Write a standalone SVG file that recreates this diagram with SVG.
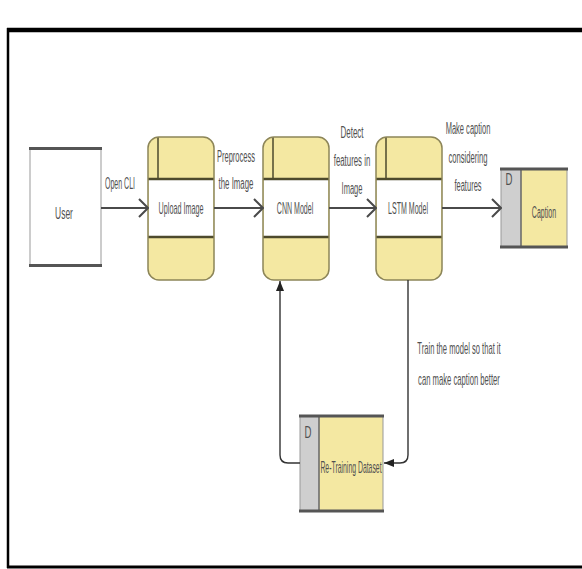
<svg xmlns="http://www.w3.org/2000/svg" width="582" height="569" viewBox="0 0 582 569">
<defs>
<marker id="chev" markerUnits="userSpaceOnUse" viewBox="0 0 11 20" refX="10" refY="10" markerWidth="11" markerHeight="20" orient="auto">
<path d="M1,1 L10,10 L1,19" fill="none" stroke="#4a4a4a" stroke-width="2"/>
</marker>
<marker id="tri" markerUnits="userSpaceOnUse" viewBox="0 0 10 8" refX="10" refY="4" markerWidth="10" markerHeight="8" orient="auto">
<path d="M0,0 L10,4 L0,8 Z" fill="#222"/>
</marker>
</defs>
<style>
.t{font-family:"Liberation Sans","Noto Sans",Arial,sans-serif;font-size:16px;fill:#505050;text-anchor:middle}
.band{fill:#f4e8a2}
.out{fill:none;stroke:#8c8558;stroke-width:1.5}
.sep{stroke:#4d4a2c;stroke-width:2.5}
.div{stroke:#4d4a2c;stroke-width:1.5}
.conn{fill:none;stroke:#4a4a4a;stroke-width:2.2}
.fb{fill:none;stroke:#333;stroke-width:1.4}
.gray{fill:#cfcfcf}
.edge{stroke:#555;stroke-width:3}
.side{stroke:#999;stroke-width:1}
</style>
<g id="frame">
<line x1="7" y1="30" x2="582" y2="30" stroke="#000" stroke-width="4.5"/>
<line x1="8" y1="28" x2="8" y2="568" stroke="#000" stroke-width="2.5"/>
<line x1="7" y1="567" x2="582" y2="567" stroke="#000" stroke-width="3"/>
</g>
<g id="user">
<rect x="30" y="148" width="71" height="118" fill="#fff"/>
<line x1="30" y1="148" x2="30" y2="266" class="side"/>
<line x1="101" y1="148" x2="101" y2="266" class="side"/>
<line x1="29" y1="148.5" x2="102" y2="148.5" class="edge"/>
<line x1="29" y1="265.5" x2="102" y2="265.5" class="edge"/>
<text class="t" transform="translate(64,219) scale(0.53,1)">User</text>
</g>
<g id="upload">
<rect x="148" y="137" width="66" height="143" rx="11" class="band"/>
<rect x="148.7" y="179" width="64.6" height="58" fill="#fff"/>
<line x1="158" y1="137" x2="158" y2="179" class="div"/>
<line x1="148" y1="179" x2="214" y2="179" class="sep"/>
<line x1="148" y1="237" x2="214" y2="237" class="sep"/>
<rect x="148" y="137" width="66" height="143" rx="11" class="out"/>
<text class="t" transform="translate(181,214) scale(0.45,1)">Upload Image</text>
</g>
<g id="cnn">
<rect x="263" y="137" width="66" height="143" rx="11" class="band"/>
<rect x="263.7" y="179" width="64.6" height="58" fill="#fff"/>
<line x1="273" y1="137" x2="273" y2="179" class="div"/>
<line x1="263" y1="179" x2="329" y2="179" class="sep"/>
<line x1="263" y1="237" x2="329" y2="237" class="sep"/>
<rect x="263" y="137" width="66" height="143" rx="11" class="out"/>
<text class="t" transform="translate(295,214) scale(0.44,1)">CNN Model</text>
</g>
<g id="lstm">
<rect x="376" y="137" width="66" height="143" rx="11" class="band"/>
<rect x="376.7" y="179" width="64.6" height="58" fill="#fff"/>
<line x1="386" y1="137" x2="386" y2="179" class="div"/>
<line x1="376" y1="179" x2="442" y2="179" class="sep"/>
<line x1="376" y1="237" x2="442" y2="237" class="sep"/>
<rect x="376" y="137" width="66" height="143" rx="11" class="out"/>
<text class="t" transform="translate(408,214) scale(0.44,1)">LSTM Model</text>
</g>
<g id="caption">
<rect x="501" y="168" width="66" height="80" class="band"/>
<rect x="501" y="168" width="20" height="80" class="gray"/>
<line x1="521" y1="168" x2="521" y2="248" stroke="#666" stroke-width="1.5"/>
<line x1="501" y1="168" x2="501" y2="248" class="side"/>
<line x1="567" y1="168" x2="567" y2="248" class="side"/>
<line x1="500" y1="169" x2="568" y2="169" class="edge"/>
<line x1="500" y1="247" x2="568" y2="247" class="edge"/>
<text class="t" transform="translate(509,185) scale(0.6,1)">D</text>
<text class="t" transform="translate(544,218) scale(0.44,1)">Caption</text>
</g>
<g id="retraining">
<rect x="300" y="415" width="83" height="97" class="band"/>
<rect x="300" y="415" width="19" height="97" class="gray"/>
<line x1="319" y1="415" x2="319" y2="512" stroke="#666" stroke-width="1.5"/>
<line x1="300" y1="415" x2="300" y2="512" class="side"/>
<line x1="383" y1="415" x2="383" y2="512" class="side"/>
<line x1="299" y1="416" x2="384" y2="416" class="edge"/>
<line x1="299" y1="511" x2="384" y2="511" class="edge"/>
<text class="t" transform="translate(308,438) scale(0.6,1)">D</text>
<text class="t" transform="translate(351,473) scale(0.43,1)">Re-Training Dataset</text>
</g>
<g id="connectors">
<line x1="101" y1="208" x2="148" y2="208" class="conn" marker-end="url(#chev)"/>
<line x1="214" y1="208" x2="263" y2="208" class="conn" marker-end="url(#chev)"/>
<line x1="329" y1="208" x2="376" y2="208" class="conn" marker-end="url(#chev)"/>
<line x1="442" y1="208" x2="501" y2="208" class="conn" marker-end="url(#chev)"/>
<path d="M408,280 V455 Q408,463 400,463 H384" class="fb" marker-end="url(#tri)"/>
<path d="M300,463 H288 Q280,463 280,455 V281" class="fb" marker-end="url(#tri)"/>
<text class="t" transform="translate(120,189) scale(0.44,1)">Open CLI</text>
<text class="t" transform="translate(236,162) scale(0.47,1)">Preprocess</text>
<text class="t" transform="translate(236,189) scale(0.49,1)">the Image</text>
<text class="t" transform="translate(352,138) scale(0.5,1)">Detect</text>
<text class="t" transform="translate(352,166) scale(0.49,1)">features in</text>
<text class="t" transform="translate(352,194) scale(0.47,1)">Image</text>
<text class="t" transform="translate(468,134) scale(0.47,1)">Make caption</text>
<text class="t" transform="translate(468,163) scale(0.48,1)">considering</text>
<text class="t" transform="translate(468,191) scale(0.47,1)">features</text>
<text class="t" transform="translate(459,354) scale(0.475,1)">Train the model so that it</text>
<text class="t" transform="translate(459,385) scale(0.48,1)">can make caption better</text>
</g>
</svg>
